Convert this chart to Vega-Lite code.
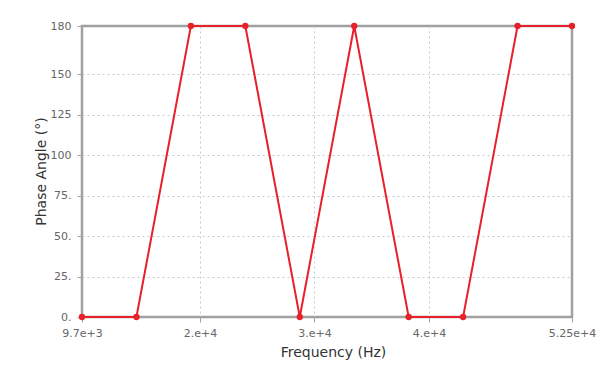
{
  "$schema": "https://vega.github.io/schema/vega-lite/v6.json",
  "width": 490,
  "height": 291,
  "autosize": {"type": "none"},
  "padding": {"left": 82, "top": 26, "right": 30, "bottom": 61},
  "background": "white",
  "config": {
    "view": {"stroke": "#a0a0a0", "strokeWidth": 2.5},
    "axis": {
      "labelFont": "DejaVu Sans",
      "labelFontSize": 11,
      "labelColor": "#666666",
      "titleFont": "DejaVu Sans",
      "titleFontSize": 14,
      "titleFontWeight": "normal",
      "titleColor": "#333333",
      "tickColor": "#a0a0a0",
      "tickSize": 5,
      "domain": false,
      "gridColor": "#c8c8c8",
      "gridDash": [2, 3],
      "gridWidth": 1
    }
  },
  "data": {
    "values": [
      {"freq": 9700, "phase": 0},
      {"freq": 14456, "phase": 0},
      {"freq": 19211, "phase": 180},
      {"freq": 23967, "phase": 180},
      {"freq": 28722, "phase": 0},
      {"freq": 33478, "phase": 180},
      {"freq": 38233, "phase": 0},
      {"freq": 42989, "phase": 0},
      {"freq": 47744, "phase": 180},
      {"freq": 52500, "phase": 180}
    ]
  },
  "encoding": {
    "x": {
      "field": "freq",
      "type": "quantitative",
      "scale": {"domain": [9700, 52500], "nice": false, "zero": false},
      "axis": {
        "title": "Frequency (Hz)",
        "values": [9700, 20000, 30000, 40000, 52500],
        "labelExpr": "datum.value == 9700 ? '9.7e+3' : datum.value == 52500 ? '5.25e+4' : datum.value == 20000 ? '2.e+4' : datum.value == 30000 ? '3.e+4' : '4.e+4'",
        "labelPadding": 5,
        "labelFlush": false,
        "gridOpacity": {"condition": {"test": "datum.value == 9700 || datum.value == 52500", "value": 0}, "value": 1},
        "titleX": 251,
        "titleY": 35,
        "titleBaseline": "middle"
      }
    },
    "y": {
      "field": "phase",
      "type": "quantitative",
      "scale": {"domain": [0, 180], "nice": false},
      "axis": {
        "title": "Phase Angle (°)",
        "values": [0, 25, 50, 75, 100, 125, 150, 180],
        "labelExpr": "datum.value < 100 ? datum.value + '.' : '' + datum.value",
        "labelPadding": 6,
        "gridOpacity": {"condition": {"test": "datum.value == 0 || datum.value == 180", "value": 0}, "value": 1},
        "titleX": -41,
        "titleY": 145,
        "titleBaseline": "middle"
      }
    }
  },
  "layer": [
    {"mark": {"type": "line", "color": "#e8202a", "strokeWidth": 2}},
    {"mark": {"type": "point", "filled": true, "color": "#e8202a", "size": 40, "opacity": 1}}
  ]
}
